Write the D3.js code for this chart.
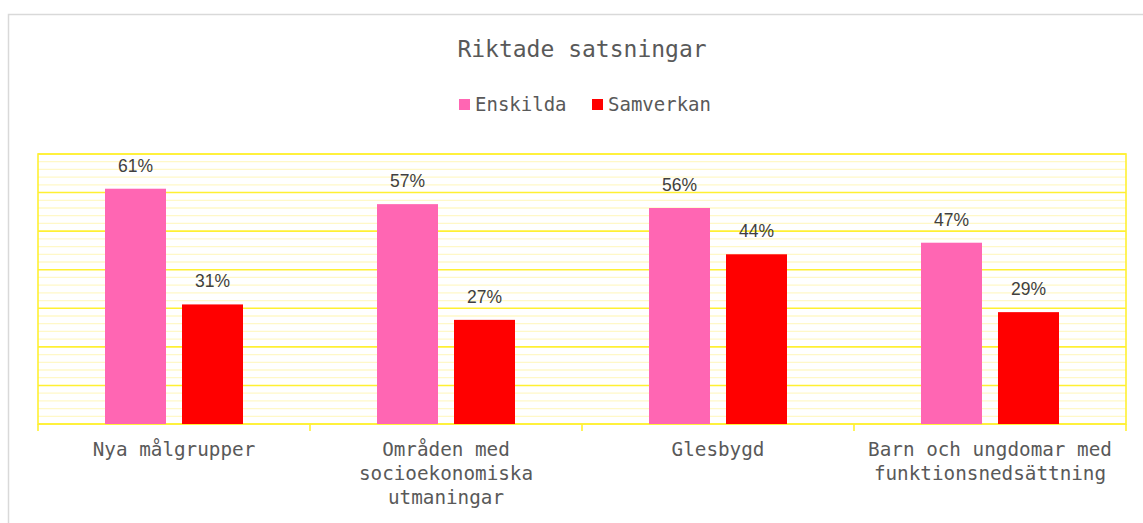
<!DOCTYPE html>
<html lang="sv">
<head>
    <meta charset="UTF-8">
    <title>Riktade satsningar</title>
    <script src="https://cdn.jsdelivr.net/npm/d3@7"></script>
    <style>
        body { margin: 0; background: #fff; }
        svg { display: block; }
    </style>
</head>
<body>
    <div id="chart"></div>
    <script>
        // data
        const categories = [
            ["Nya målgrupper"],
            ["Områden med", "socioekonomiska", "utmaningar"],
            ["Glesbygd"],
            ["Barn och ungdomar med", "funktionsnedsättning"]
        ];
        const seriesNames = ["Enskilda", "Samverkan"];
        const enskilda = [61, 57, 56, 47];
        const samverkan = [31, 27, 44, 29];
        const yMax = 70;
        const majorTicks = [0, 10, 20, 30, 40, 50, 60, 70];
        const minorTicks = d3.range(0, 71, 2);

        const colors = ["#FF66B3", "#FF0000"];
        const W = 1143, H = 523;
        const plot = { left: 38, right: 1126, top: 154, bottom: 424 };
        const mono = "'DejaVu Sans Mono', monospace";
        const sans = "'Liberation Sans', Arial, sans-serif";

        const svg = d3.select("#chart").append("svg")
            .attr("width", W)
            .attr("height", H);

        // outer frame
        svg.append("rect")
            .attr("x", 8.5).attr("y", 14.5)
            .attr("width", 1300).attr("height", 700)
            .attr("fill", "#fff")
            .attr("stroke", "#d9d9d9")
            .attr("stroke-width", 1.5);

        // scales
        const x0 = d3.scaleBand()
            .domain(d3.range(categories.length))
            .range([plot.left, plot.right]);

        const y = d3.scaleLinear()
            .domain([0, yMax])
            .range([plot.bottom, plot.top]);

        // minor gridlines
        svg.append("g")
            .selectAll("line")
            .data(minorTicks.filter(t => t % 10 !== 0))
            .enter().append("line")
            .attr("x1", plot.left).attr("x2", plot.right)
            .attr("y1", d => y(d)).attr("y2", d => y(d))
            .attr("stroke", "#FFF8C8")
            .attr("stroke-width", 1.3);

        // major gridlines
        svg.append("g")
            .selectAll("line")
            .data(majorTicks)
            .enter().append("line")
            .attr("x1", plot.left).attr("x2", plot.right)
            .attr("y1", d => y(d)).attr("y2", d => y(d))
            .attr("stroke", "#FFF033")
            .attr("stroke-width", 1.6);

        // plot border
        svg.append("rect")
            .attr("x", plot.left).attr("y", plot.top)
            .attr("width", plot.right - plot.left)
            .attr("height", plot.bottom - plot.top)
            .attr("fill", "none")
            .attr("stroke", "#FFF033")
            .attr("stroke-width", 1.6);

        // bars
        const barW = 61, gap = 16;
        const x1 = d3.scaleOrdinal()
            .domain([0, 1])
            .range([-(barW + gap / 2), gap / 2]);

        const rows = categories.map((c, i) => [enskilda[i], samverkan[i]]);

        const groups = svg.append("g")
            .selectAll("g")
            .data(rows)
            .enter().append("g")
            .attr("transform", (d, i) => `translate(${x0(i) + x0.bandwidth() / 2},0)`);

        groups.selectAll("rect")
            .data(d => d)
            .enter().append("rect")
            .attr("x", (d, j) => x1(j))
            .attr("y", d => y(d))
            .attr("width", barW)
            .attr("height", d => y(0) - y(d))
            .attr("fill", (d, j) => colors[j]);

        // data labels
        groups.selectAll("text")
            .data(d => d)
            .enter().append("text")
            .attr("x", (d, j) => x1(j) + barW / 2)
            .attr("y", d => y(d) - 17)
            .attr("text-anchor", "middle")
            .style("font-family", sans)
            .style("font-size", "17.5px")
            .style("fill", "#404040")
            .text(d => d + "%");

        // category axis
        const xAxis = svg.append("g")
            .attr("transform", `translate(0,${plot.bottom})`);

        const bounds = d3.range(categories.length + 1)
            .map(i => i < categories.length ? x0(i) : plot.right);

        xAxis.selectAll("line")
            .data(bounds)
            .enter().append("line")
            .attr("x1", d => d).attr("x2", d => d)
            .attr("y1", 0).attr("y2", 7)
            .attr("stroke", "#FFF033")
            .attr("stroke-width", 1.6);

        xAxis.selectAll("text")
            .data(categories)
            .enter().append("text")
            .attr("x", (d, i) => x0(i) + x0.bandwidth() / 2)
            .attr("y", 32)
            .attr("text-anchor", "middle")
            .style("font-family", mono)
            .style("font-size", "19.3px")
            .style("fill", "#595959")
            .selectAll("tspan")
            .data(d => d)
            .enter().append("tspan")
            .attr("x", function () { return d3.select(this.parentNode).attr("x"); })
            .attr("dy", (d, k) => k === 0 ? 0 : 24)
            .text(d => d);

        // title
        svg.append("text")
            .attr("x", (plot.left + plot.right) / 2)
            .attr("y", 57)
            .attr("text-anchor", "middle")
            .style("font-family", mono)
            .style("font-size", "23px")
            .style("fill", "#595959")
            .text("Riktade satsningar");

        // legend
        const legendX = [459, 592];
        const legend = svg.append("g")
            .selectAll("g")
            .data(seriesNames)
            .enter().append("g")
            .attr("transform", (d, i) => `translate(${legendX[i]},0)`);

        legend.append("rect")
            .attr("x", 0).attr("y", 99)
            .attr("width", 11).attr("height", 11)
            .attr("fill", (d, i) => colors[i]);

        legend.append("text")
            .attr("x", 16).attr("y", 111)
            .style("font-family", mono)
            .style("font-size", "19px")
            .style("fill", "#595959")
            .text(d => d);
    </script>
</body>
</html>
